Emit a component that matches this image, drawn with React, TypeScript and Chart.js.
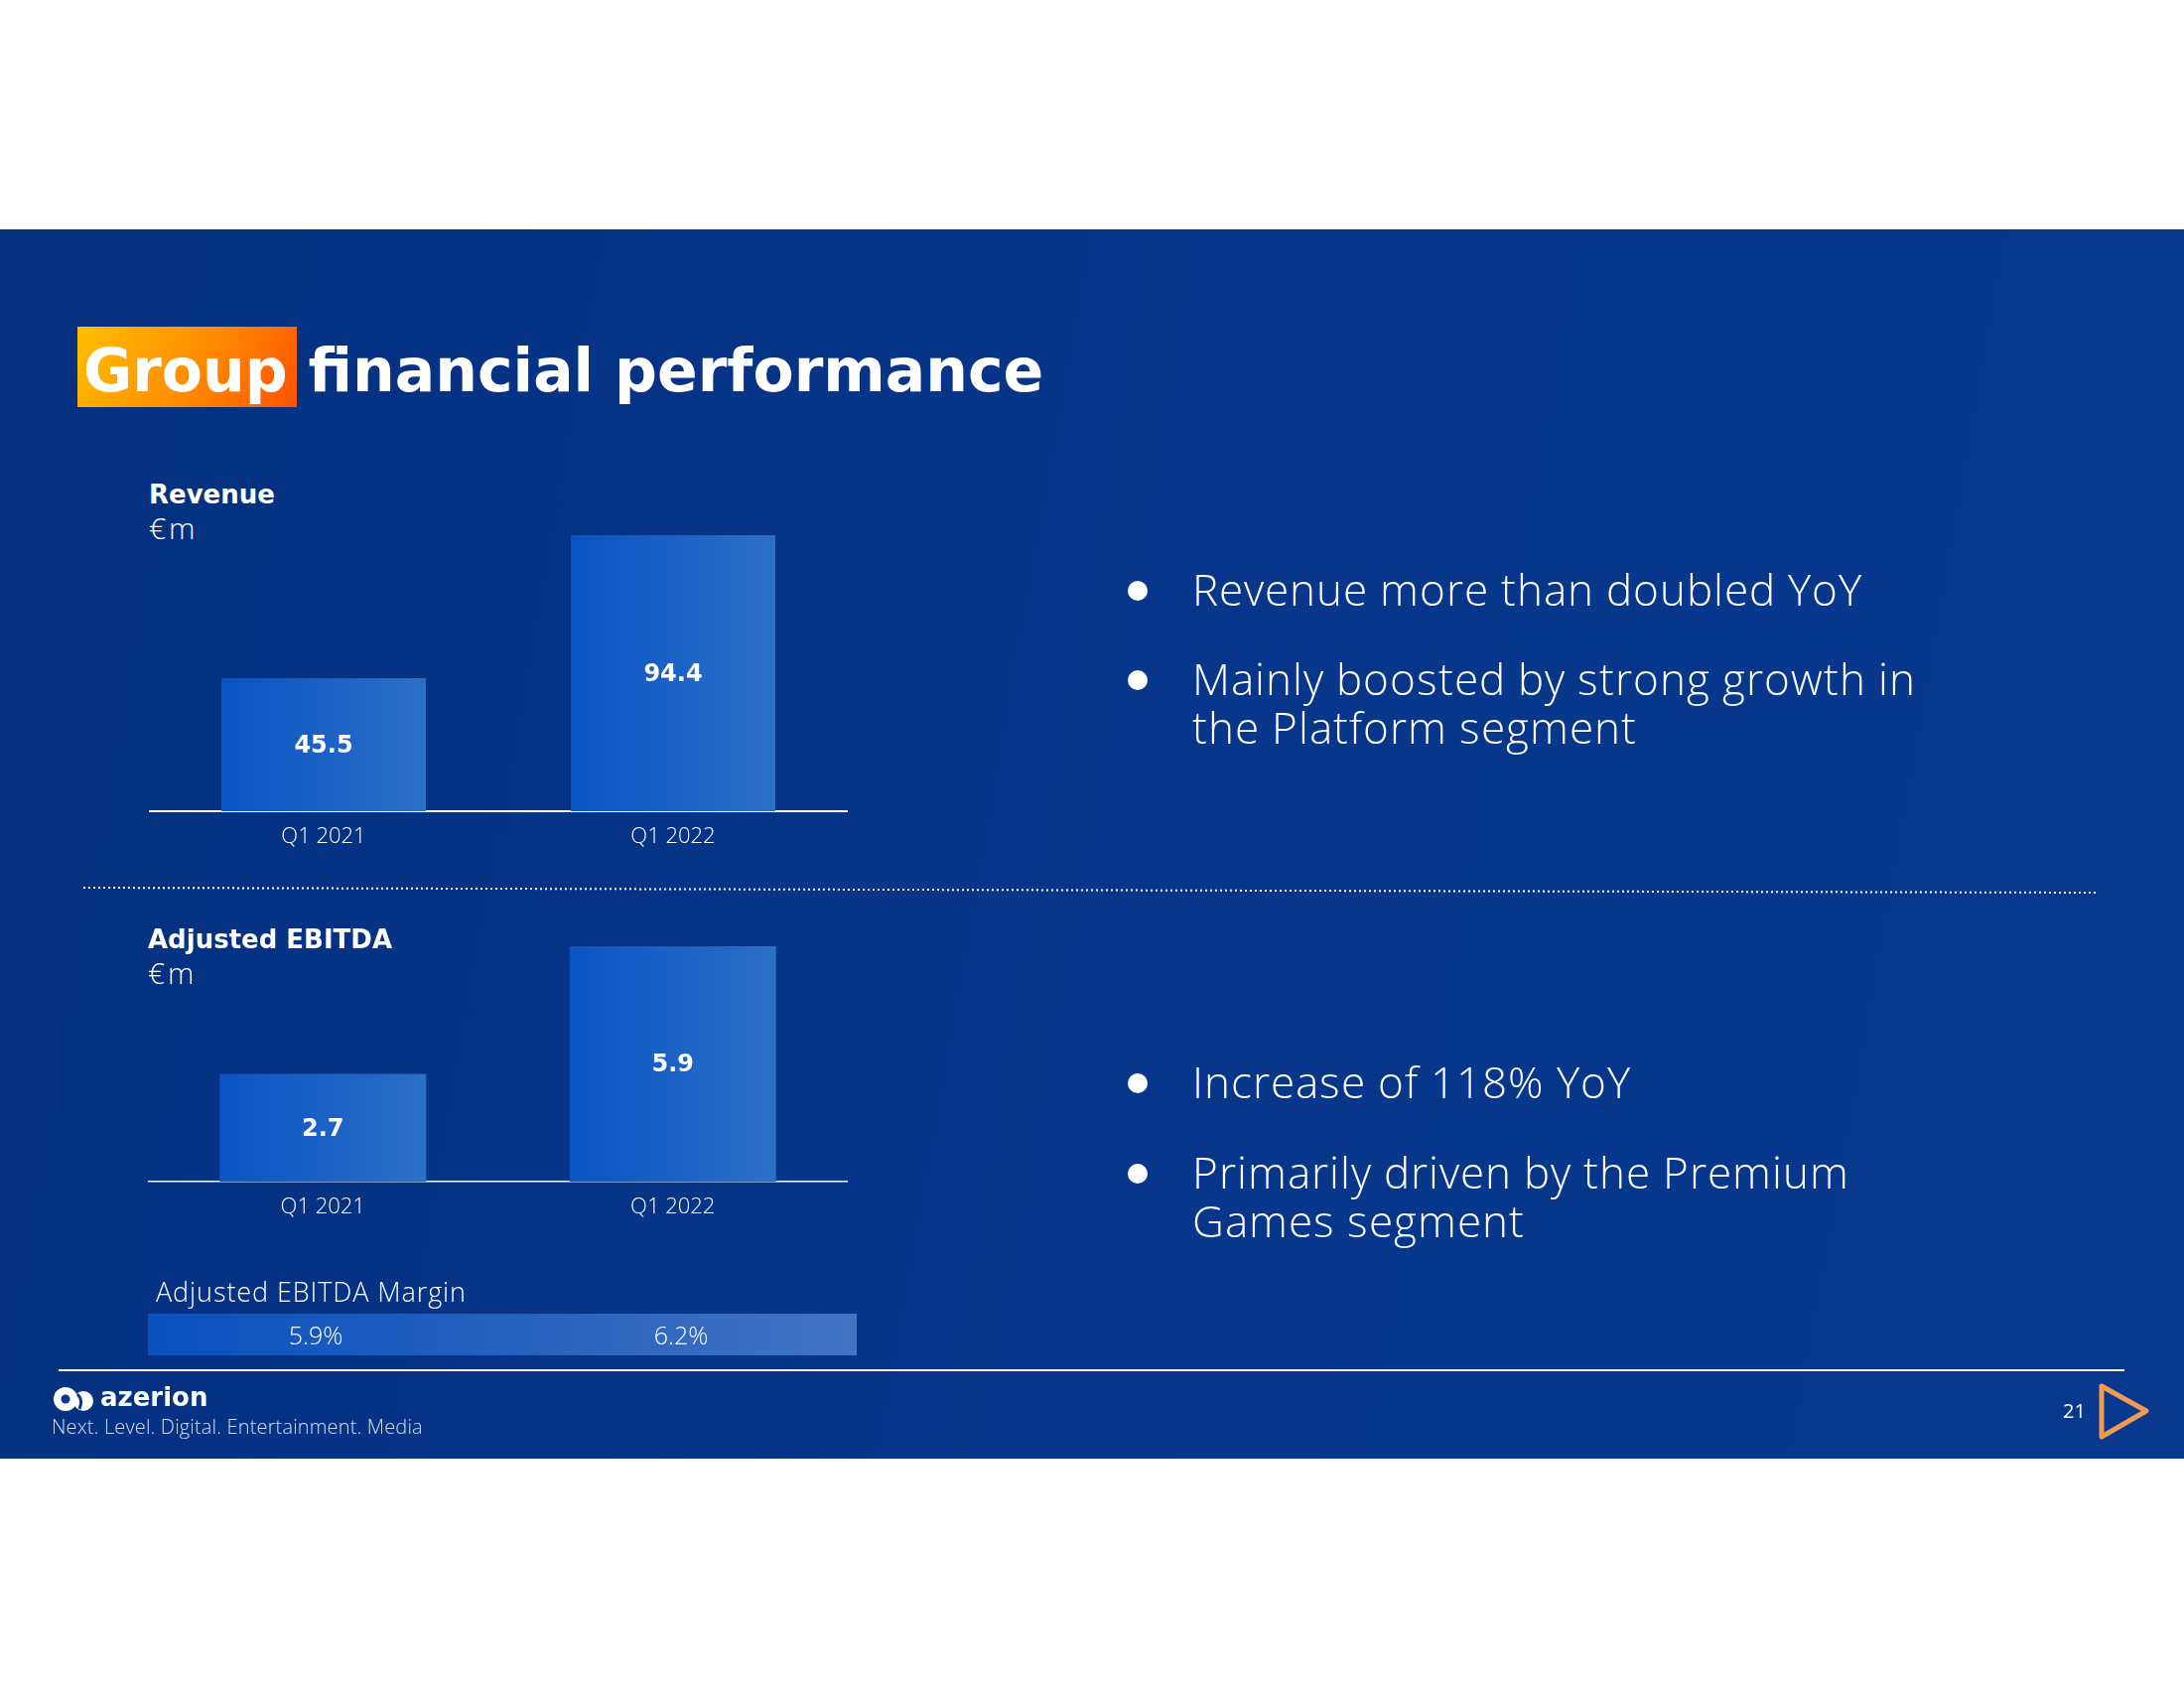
import React, { useEffect, useRef } from "react";
import { Chart, registerables } from "chart.js";

Chart.register(...registerables);

// ---------- data ----------
const categories = ["Q1 2021", "Q1 2022"];
const revenueValues = [45.5, 94.4];
const ebitdaValues = [2.7, 5.9];
const marginLabels = ["5.9%", "6.2%"];
const revenueAxisMax = 99.5;
const ebitdaAxisMax = 6.45;

const revenueBullets = [
  ["Revenue more than doubled YoY"],
  ["Mainly boosted by strong growth in", "the Platform segment"],
];
const ebitdaBullets = [
  ["Increase of 118% YoY"],
  ["Primarily driven by the Premium", "Games segment"],
];

const LIGHT = "'Open Sans', 'Noto Sans', sans-serif";
const TIGHT = "'OpenSansTight', 'Open Sans', 'Noto Sans', sans-serif";
const BOLD = "'DejaVu Sans', sans-serif";

const fontCss = `
@font-face {
  font-family: 'OpenSansTight';
  src: local('Open Sans Light'), local('OpenSans-Light'), local('Open Sans'), local('Open Sans Regular'), local('OpenSans-Regular');
  font-weight: 300;
  ascent-override: 85%;
  descent-override: 22%;
  line-gap-override: 0%;
}
`;

const valueLabelPlugin = {
  id: "valueLabels",
  afterDatasetsDraw(chart: any) {
    const { ctx } = chart;
    const meta = chart.getDatasetMeta(0);
    const data = chart.data.datasets[0].data;
    ctx.save();
    ctx.font = "bold 24px 'DejaVu Sans', sans-serif";
    ctx.fillStyle = "#ffffff";
    ctx.textAlign = "center";
    ctx.textBaseline = "middle";
    meta.data.forEach((bar: any, i: number) => {
      ctx.fillText(Number(data[i]).toFixed(1), bar.x, (bar.y + bar.base) / 2 + 1.5);
    });
    ctx.restore();
  },
};

type BarProps = {
  values: number[];
  max: number;
  left: number;
  top: number;
  width: number;
  plotHeight: number;
  barPct: number;
  borderWidth: number;
};

const AXIS_H = 50;

function BarChart({ values, max, left, top, width, plotHeight, barPct, borderWidth }: BarProps) {
  const ref = useRef<HTMLCanvasElement | null>(null);
  useEffect(() => {
    if (!ref.current) return;
    const chart = new Chart(ref.current, {
      type: "bar",
      data: {
        labels: categories,
        datasets: [
          {
            data: values,
            backgroundColor: (c: any) => {
              const ch = c.chart;
              const xs = ch.scales && ch.scales.x;
              if (!xs || !ch.chartArea || c.dataIndex === undefined) return "#1a60c4";
              const cx = xs.getPixelForValue(c.dataIndex);
              const w = (xs.width / categories.length) * barPct;
              const g = ch.ctx.createLinearGradient(cx - w / 2, 0, cx + w / 2, 0);
              g.addColorStop(0, "#0a54c4");
              g.addColorStop(1, "#2c6fc8");
              return g;
            },
            borderWidth: 0,
            categoryPercentage: 1,
            barPercentage: barPct,
          },
        ],
      },
      options: {
        animation: false,
        responsive: false,
        maintainAspectRatio: false,
        layout: { padding: 0 },
        plugins: {
          legend: { display: false },
          tooltip: { enabled: false },
          title: { display: false },
        },
        scales: {
          x: {
            grid: { display: false, drawTicks: false },
            border: { display: true, color: "#ffffff", width: borderWidth },
            ticks: {
              color: "#ffffff",
              padding: 13,
              font: { family: LIGHT, size: 22, weight: "300" as any },
            },
            afterFit: (scale: any) => {
              scale.height = AXIS_H;
            },
          },
          y: {
            display: false,
            min: 0,
            max: max,
          },
        },
      },
      plugins: [valueLabelPlugin],
    });
    return () => chart.destroy();
  }, []);
  const h = plotHeight + AXIS_H;
  return (
    <canvas
      ref={ref}
      width={width}
      height={h}
      style={{ position: "absolute", left, top, width, height: h }}
    />
  );
}

function Bullets({ items, tops }: { items: string[][]; tops: number[] }) {
  return (
    <>
      {items.map((lines, i) => (
        <React.Fragment key={i}>
          <div
            style={{
              position: "absolute",
              left: 1136,
              top: tops[i] + 16,
              width: 20,
              height: 20,
              borderRadius: 10,
              background: "#ffffff",
            }}
          />
          {lines.map((l, j) => (
            <div
              key={j}
              style={{
                position: "absolute",
                left: 1201,
                top: tops[i] + 3 + j * 49,
                height: 49,
                fontFamily: TIGHT,
                fontWeight: 300,
                fontSize: 44,
                letterSpacing: "1px",
                lineHeight: "49px",
                color: "#ffffff",
                whiteSpace: "nowrap",
              }}
            >
              {l}
            </div>
          ))}
        </React.Fragment>
      ))}
    </>
  );
}

function Header({ title, left, top }: { title: string; left: number; top: number }) {
  return (
    <>
      <div
        style={{
          position: "absolute",
          left,
          top,
          fontFamily: BOLD,
          fontWeight: 700,
          fontSize: 26,
          lineHeight: "30px",
          color: "#ffffff",
          whiteSpace: "nowrap",
        }}
      >
        {title}
      </div>
      <div
        style={{
          position: "absolute",
          left,
          top: top + 33,
          fontFamily: TIGHT,
          fontWeight: 300,
          fontSize: 30,
          letterSpacing: "2.5px",
          lineHeight: "36px",
          color: "#ffffff",
        }}
      >
        €m
      </div>
    </>
  );
}

export default function App() {
  return (
    <div
      style={{
        position: "absolute",
        left: 0,
        top: 0,
        width: 2200,
        height: 1700,
        background: "#ffffff",
        overflow: "hidden",
      }}
    >
      <style>{fontCss}</style>
      {/* blue slide band */}
      <div
        style={{
          position: "absolute",
          left: 0,
          top: 231,
          width: 2200,
          height: 1238,
          background: "linear-gradient(100deg, #05307f 0%, #07368a 50%, #08398e 100%)",
        }}
      />

      {/* title */}
      <div
        style={{
          position: "absolute",
          left: 78,
          top: 329,
          width: 221,
          height: 81,
          background: "linear-gradient(120deg, #ffc000 0%, #ff8a00 55%, #ff5200 100%)",
        }}
      />
      <div
        style={{
          position: "absolute",
          left: 84,
          top: 338,
          fontFamily: BOLD,
          fontWeight: 700,
          fontSize: 60,
          lineHeight: "70px",
          color: "#ffffff",
          whiteSpace: "nowrap",
        }}
      >
        Group financial performance
      </div>

      <Header title="Revenue" left={150} top={483} />

      <BarChart
        values={revenueValues}
        max={revenueAxisMax}
        left={150}
        top={524}
        width={704}
        plotHeight={293}
        barPct={0.585}
        borderWidth={2}
      />

      {/* lines, separator, triangle, logo icon */}
      <svg
        style={{ position: "absolute", left: 0, top: 0 }}
        width={2200}
        height={1700}
      >
        <line
          x1={84}
          y1={894}
          x2={2112}
          y2={899}
          stroke="#ffffff"
          strokeWidth={2}
          strokeDasharray="2 3"
        />
        <line x1={59} y1={1380} x2={2140} y2={1380} stroke="#ffffff" strokeWidth={2} />
        <polygon
          points="2117,1396 2162,1421 2117,1447"
          fill="none"
          stroke="#f29a52"
          strokeWidth={5}
          strokeLinejoin="round"
        />
        {/* azerion icon */}
        <circle cx={66} cy={1409} r={12} fill="#ffffff" />
        <circle cx={84} cy={1411} r={10} fill="#ffffff" />
        <circle cx={66} cy={1409} r={4.5} fill="#07378b" />
        <path d="M78 1404 Q84 1410 80 1419" stroke="#07378b" strokeWidth={3} fill="none" />
      </svg>

      <Header title="Adjusted EBITDA" left={149} top={931} />

      <BarChart
        values={ebitdaValues}
        max={ebitdaAxisMax}
        left={149}
        top={931}
        width={705}
        plotHeight={259}
        barPct={0.59}
        borderWidth={1.5}
      />

      {/* margin strip */}
      <div
        style={{
          position: "absolute",
          left: 157,
          top: 1285,
          fontFamily: LIGHT,
          fontWeight: 300,
          fontSize: 27,
          letterSpacing: "0.9px",
          lineHeight: "32px",
          color: "#ffffff",
          whiteSpace: "nowrap",
        }}
      >
        Adjusted EBITDA Margin
      </div>
      <div
        style={{
          position: "absolute",
          left: 149,
          top: 1323,
          width: 714,
          height: 42,
          background: "linear-gradient(90deg, #0a51bf 0%, #2a64c0 60%, #4274c2 100%)",
        }}
      />
      {marginLabels.map((m, i) => (
        <div
          key={m}
          style={{
            position: "absolute",
            left: [318, 686][i],
            top: 1328,
            transform: "translateX(-50%)",
            fontFamily: LIGHT,
            fontWeight: 300,
            fontSize: 25,
            lineHeight: "32px",
            color: "#ffffff",
            whiteSpace: "nowrap",
          }}
        >
          {m}
        </div>
      ))}

      {/* bullets */}
      <Bullets items={revenueBullets} tops={[569, 659]} />
      <Bullets items={ebitdaBullets} tops={[1065, 1156]} />

      {/* footer */}
      <div
        style={{
          position: "absolute",
          left: 101,
          top: 1392,
          fontFamily: BOLD,
          fontWeight: 700,
          fontSize: 26,
          lineHeight: "30px",
          color: "#ffffff",
        }}
      >
        azerion
      </div>
      <div
        style={{
          position: "absolute",
          left: 52,
          top: 1425,
          fontFamily: LIGHT,
          fontWeight: 300,
          fontSize: 20,
          letterSpacing: "0.15px",
          lineHeight: "24px",
          color: "rgba(230,236,250,0.9)",
          whiteSpace: "nowrap",
        }}
      >
        Next. Level. Digital. Entertainment. Media
      </div>
      <div
        style={{
          position: "absolute",
          left: 2078,
          top: 1408,
          fontFamily: LIGHT,
          fontWeight: 400,
          fontSize: 20,
          lineHeight: "26px",
          color: "#ffffff",
        }}
      >
        21
      </div>
    </div>
  );
}
